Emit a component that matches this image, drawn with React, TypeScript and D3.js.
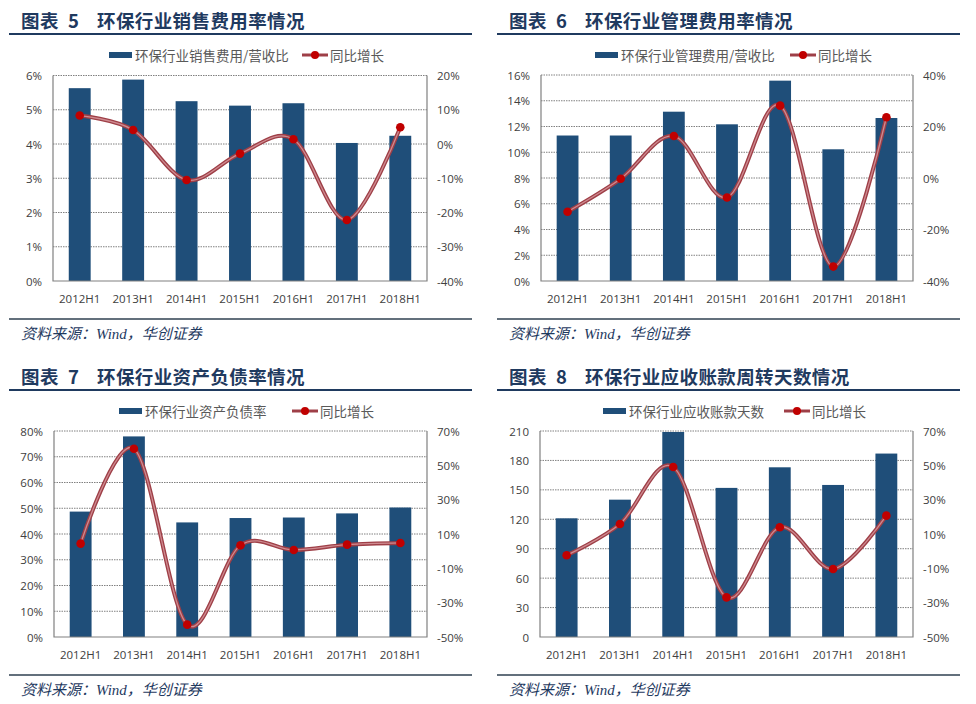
import React, { useEffect, useRef } from 'react';
import * as d3 from 'd3';

const categories = ['2012H1', '2013H1', '2014H1', '2015H1', '2016H1', '2017H1', '2018H1'];

// 图表5 销售费用率
const salesRatio = [5.63, 5.88, 5.25, 5.12, 5.19, 4.03, 4.24];
const salesYoy = [8.3, 4.1, -10.5, -2.8, 1.4, -22.2, 4.9];
const salesLeftTicks = [0, 1, 2, 3, 4, 5, 6];
const salesRightTicks = [-40, -30, -20, -10, 0, 10, 20];

// 图表6 管理费用率
const mgmtRatio = [11.3, 11.3, 13.15, 12.17, 15.56, 10.23, 12.66];
const mgmtYoy = [-13.1, -0.3, 16.3, -7.6, 28.1, -34.4, 23.6];
const mgmtLeftTicks = [0, 2, 4, 6, 8, 10, 12, 14, 16];
const mgmtRightTicks = [-40, -20, 0, 20, 40];

// 图表7 资产负债率
const debtRatio = [48.7, 77.9, 44.5, 46.2, 46.4, 48.0, 50.3];
const debtYoy = [4.4, 59.7, -42.8, 3.4, 0.7, 3.8, 4.8];
const debtLeftTicks = [0, 10, 20, 30, 40, 50, 60, 70, 80];
const debtRightTicks = [-50, -30, -10, 10, 30, 50, 70];

// 图表8 应收账款周转天数
const arDays = [121, 140, 209, 152, 173, 155, 187];
const arYoy = [-2.4, 15.8, 49.0, -26.9, 13.9, -10.4, 20.7];
const arLeftTicks = [0, 30, 60, 90, 120, 150, 180, 210];
const arRightTicks = [-50, -30, -10, 10, 30, 50, 70];

const BAR = '#1F4E79';
const NAVY = '#1F3A5F';
const CJK = '"Noto Sans CJK SC", sans-serif';
const NUM = '"Open Sans", "Noto Sans CJK SC", sans-serif';

interface PanelCfg {
  no: string;
  title: string;
  barName: string;
  bars: number[];
  yoy: number[];
  leftTicks: number[];
  rightTicks: number[];
  leftFmt: (v: number) => string;
  ox: number;          // panel left
  titleY: number;
  plot: { l: number; r: number; t: number; b: number };
  legendX: number;
  lineLegendX: number;
}

const pct = (v: number) => `${v}%`;

const panels: PanelCfg[] = [
  {
    no: '5', title: '环保行业销售费用率情况', barName: '环保行业销售费用/营收比',
    bars: salesRatio, yoy: salesYoy, leftTicks: salesLeftTicks, rightTicks: salesRightTicks,
    leftFmt: pct, ox: 0, titleY: 20, plot: { l: 53, r: 427, t: 75.5, b: 281 },
    legendX: 109, lineLegendX: 302,
  },
  {
    no: '6', title: '环保行业管理费用率情况', barName: '环保行业管理费用/营收比',
    bars: mgmtRatio, yoy: mgmtYoy, leftTicks: mgmtLeftTicks, rightTicks: mgmtRightTicks,
    leftFmt: pct, ox: 488, titleY: 20, plot: { l: 541, r: 913, t: 75, b: 281 },
    legendX: 595, lineLegendX: 790,
  },
  {
    no: '7', title: '环保行业资产负债率情况', barName: '环保行业资产负债率',
    bars: debtRatio, yoy: debtYoy, leftTicks: debtLeftTicks, rightTicks: debtRightTicks,
    leftFmt: pct, ox: 0, titleY: 376, plot: { l: 54, r: 427, t: 431, b: 637 },
    legendX: 119, lineLegendX: 292,
  },
  {
    no: '8', title: '环保行业应收账款周转天数情况', barName: '环保行业应收账款天数',
    bars: arDays, yoy: arYoy, leftTicks: arLeftTicks, rightTicks: arRightTicks,
    leftFmt: (v) => `${v}`, ox: 488, titleY: 376, plot: { l: 540, r: 913, t: 431, b: 637 },
    legendX: 603, lineLegendX: 784,
  },
];

const App: React.FC = () => {
  const svgRef = useRef<SVGSVGElement | null>(null);

  useEffect(() => {
    const svg = d3.select(svgRef.current);
    svg.selectAll('*').remove();

    svg.append('rect').attr('width', 976).attr('height', 704).attr('fill', '#fff');

    panels.forEach((p) => {
      const g = svg.append('g');
      const { l, r, t, b } = p.plot;

      // title
      const tx = p.ox + 21;
      const title = g.append('g').attr('fill', NAVY).attr('font-family', CJK)
        .attr('font-weight', 700).attr('font-size', 18.5).attr('dominant-baseline', 'central')
        .attr('letter-spacing', 0.4);
      title.append('text').attr('x', tx).attr('y', p.titleY).text('图表');
      title.append('text').attr('x', tx + 47).attr('y', p.titleY).text(p.no);
      title.append('text').attr('x', tx + 76).attr('y', p.titleY).text(p.title);

      g.append('line').attr('x1', p.ox + 9).attr('x2', p.ox + 472)
        .attr('y1', p.titleY + 14).attr('y2', p.titleY + 14)
        .attr('stroke', NAVY).attr('stroke-width', 2);

      // bottom rule + source
      const srcY = p.titleY + 299;
      g.append('line').attr('x1', p.ox + 9).attr('x2', p.ox + 472)
        .attr('y1', srcY).attr('y2', srcY)
        .attr('stroke', '#2F4050').attr('stroke-width', 1.3);
      g.append('text').attr('x', p.ox + 21).attr('y', srcY + 15)
        .attr('dominant-baseline', 'central')
        .attr('font-family', '"Liberation Serif", "Noto Sans CJK SC", serif')
        .attr('font-style', 'italic').attr('font-size', 15).attr('fill', NAVY)
        .text('资料来源：Wind，华创证券');

      // scales
      const x = d3.scaleBand<string>().domain(categories).range([l, r])
        .paddingInner(0.59).paddingOuter(0.295);
      const yL = d3.scaleLinear()
        .domain([p.leftTicks[0], p.leftTicks[p.leftTicks.length - 1]]).range([b, t]);
      const yR = d3.scaleLinear()
        .domain([p.rightTicks[0], p.rightTicks[p.rightTicks.length - 1]]).range([b, t]);

      // gridlines (dotted)
      g.append('g').selectAll('line').data(p.leftTicks.slice(1)).enter().append('line')
        .attr('x1', l).attr('x2', r)
        .attr('y1', (d) => yL(d)).attr('y2', (d) => yL(d))
        .attr('stroke', '#808080').attr('stroke-width', 1).attr('stroke-dasharray', '1.5,1');

      // bars
      g.append('g').selectAll('rect').data(p.bars).enter().append('rect')
        .attr('x', (_, i) => x(categories[i])!)
        .attr('y', (d) => yL(d))
        .attr('width', x.bandwidth())
        .attr('height', (d) => b - yL(d))
        .attr('fill', BAR);

      // axes lines
      g.append('path')
        .attr('d', `M${l},${t}V${b}H${r}V${t}`)
        .attr('fill', 'none').attr('stroke', '#808080').attr('stroke-width', 1.2);

      // left labels
      g.append('g').selectAll('text').data(p.leftTicks).enter().append('text')
        .attr('x', l - 11).attr('y', (d) => yL(d))
        .attr('text-anchor', 'end').attr('dominant-baseline', 'central')
        .attr('font-family', NUM).attr('font-size', 11.5).attr('fill', '#404040')
        .text((d) => p.leftFmt(d));

      // right labels
      g.append('g').selectAll('text').data(p.rightTicks).enter().append('text')
        .attr('x', r + 10).attr('y', (d) => yR(d))
        .attr('dominant-baseline', 'central')
        .attr('font-family', NUM).attr('font-size', 11.5).attr('fill', '#404040')
        .text((d) => `${d}%`);

      // x labels
      g.append('g').selectAll('text').data(categories).enter().append('text')
        .attr('x', (d) => x(d)! + x.bandwidth() / 2).attr('y', b + 17)
        .attr('text-anchor', 'middle').attr('dominant-baseline', 'central')
        .attr('font-family', NUM).attr('font-size', 11.5).attr('fill', '#404040')
        .text((d) => d);

      // yoy line
      const line = d3.line<number>()
        .x((_, i) => x(categories[i])! + x.bandwidth() / 2)
        .y((d) => yR(d))
        .curve(d3.curveCatmullRom.alpha(0));
      g.append('path').attr('d', line(p.yoy)).attr('fill', 'none')
        .attr('stroke', '#9E3F47').attr('stroke-width', 4);
      g.append('path').attr('d', line(p.yoy)).attr('fill', 'none')
        .attr('stroke', '#CF8A90').attr('stroke-width', 1.3);
      g.append('g').selectAll('circle').data(p.yoy).enter().append('circle')
        .attr('cx', (_, i) => x(categories[i])! + x.bandwidth() / 2)
        .attr('cy', (d) => yR(d)).attr('r', 4.3).attr('fill', '#C00000');

      // legend
      const ly = p.titleY + 35;
      const lg = g.append('g').attr('font-family', CJK).attr('font-size', 13.5)
        .attr('fill', '#595959');
      lg.append('rect').attr('x', p.legendX).attr('y', ly - 3).attr('width', 23)
        .attr('height', 6).attr('fill', BAR);
      lg.append('text').attr('x', p.legendX + 26).attr('y', ly)
        .attr('dominant-baseline', 'central').text(p.barName);
      lg.append('line').attr('x1', p.lineLegendX).attr('x2', p.lineLegendX + 26)
        .attr('y1', ly).attr('y2', ly).attr('stroke', '#9E3F47').attr('stroke-width', 3);
      lg.append('circle').attr('cx', p.lineLegendX + 13).attr('cy', ly).attr('r', 4)
        .attr('fill', '#C00000');
      lg.append('text').attr('x', p.lineLegendX + 28).attr('y', ly)
        .attr('dominant-baseline', 'central').text('同比增长');
    });
  }, []);

  return (
    <svg ref={svgRef} width={976} height={704}
      style={{ position: 'absolute', left: 0, top: 0, display: 'block' }} />
  );
};

export default App;
